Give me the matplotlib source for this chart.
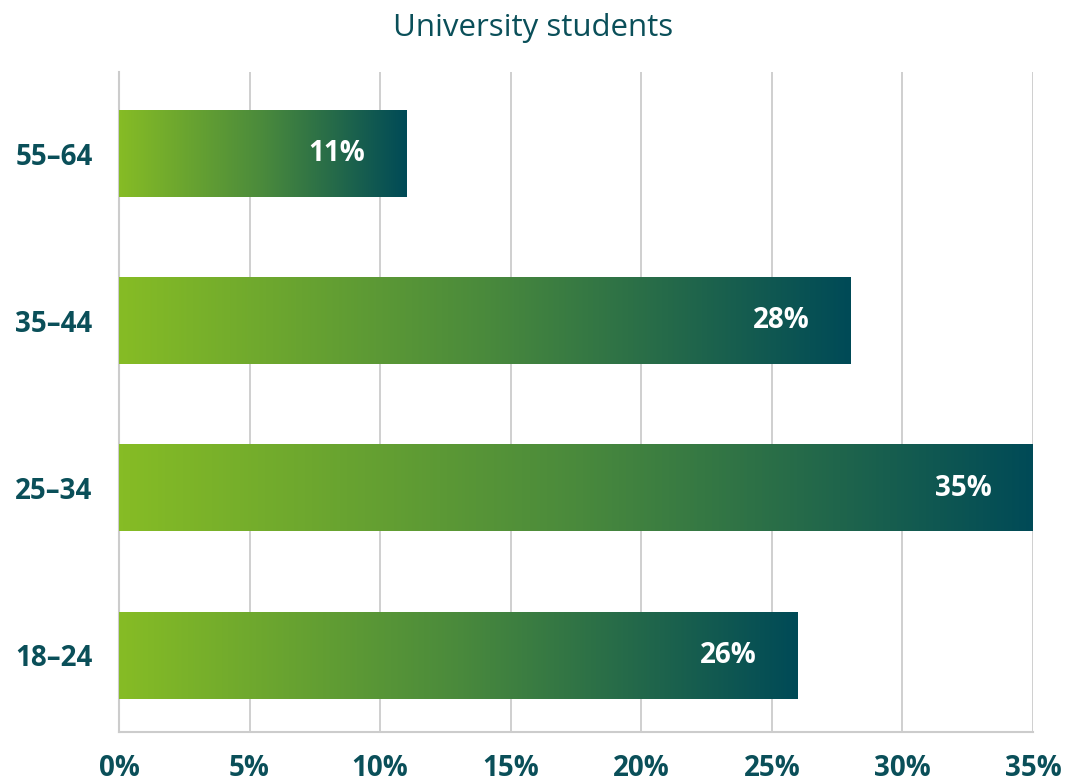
import numpy as np
import matplotlib.pyplot as plt
from matplotlib.colors import LinearSegmentedColormap

plt.rcParams['font.family'] = ['Open Sans', 'DejaVu Sans']

age_groups = ['18–24', '25–34', '35–44', '55–64']
shares = [26, 35, 28, 11]
x_ticks = [0, 5, 10, 15, 20, 25, 30, 35]

TEXT = '#0a4f59'
GRID = '#cccccc'
grad = LinearSegmentedColormap.from_list('bar_grad', ['#86bc25', '#4a8a3c', '#004a57'])

fig = plt.figure(figsize=(10.67, 7.83), dpi=100)
ax = fig.add_axes([0.1115, 0.0651, 0.8566, 0.8430])

y = np.arange(len(age_groups))
bar_h = 0.52
bars = ax.barh(y, shares, height=bar_h, color='none', zorder=3)

# fill each bar with its own left-to-right gradient
ramp = np.linspace(0, 1, 256).reshape(1, -1)
for bar, val in zip(bars, shares):
    x0, y0 = bar.get_x(), bar.get_y()
    ax.imshow(ramp, cmap=grad, aspect='auto', zorder=3,
              extent=[x0, x0 + bar.get_width(), y0, y0 + bar.get_height()])
    ax.annotate(f'{val}%', xy=(val, y0 + bar.get_height() / 2),
                xytext=(-29.5, 0), textcoords='offset points',
                ha='right', va='center', color='white',
                fontsize=20, fontweight='bold', zorder=4)

ax.set_xlim(0, 35)
ax.set_ylim(-0.46, 3.49)
ax.set_xticks(x_ticks)
ax.set_xticklabels([f'{t}%' for t in x_ticks])
ax.set_yticks(y)
ax.set_yticklabels(age_groups)
ax.tick_params(axis='both', length=0, labelsize=20, labelcolor=TEXT)
ax.tick_params(axis='x', pad=16)
ax.tick_params(axis='y', pad=19)
for lab in ax.get_xticklabels() + ax.get_yticklabels():
    lab.set_fontweight('bold')

ax.grid(axis='x', color=GRID, linewidth=1.3, zorder=0)
ax.set_axisbelow(True)
for side in ['top', 'right']:
    ax.spines[side].set_visible(False)
for side in ['left', 'bottom']:
    ax.spines[side].set_color(GRID)
    ax.spines[side].set_linewidth(1.5)

fig.text(0.5, 1 - 28 / 783, 'University students', fontsize=22.5,
         color=TEXT, ha='center', va='center')

fig.savefig('out.png', dpi=100)
